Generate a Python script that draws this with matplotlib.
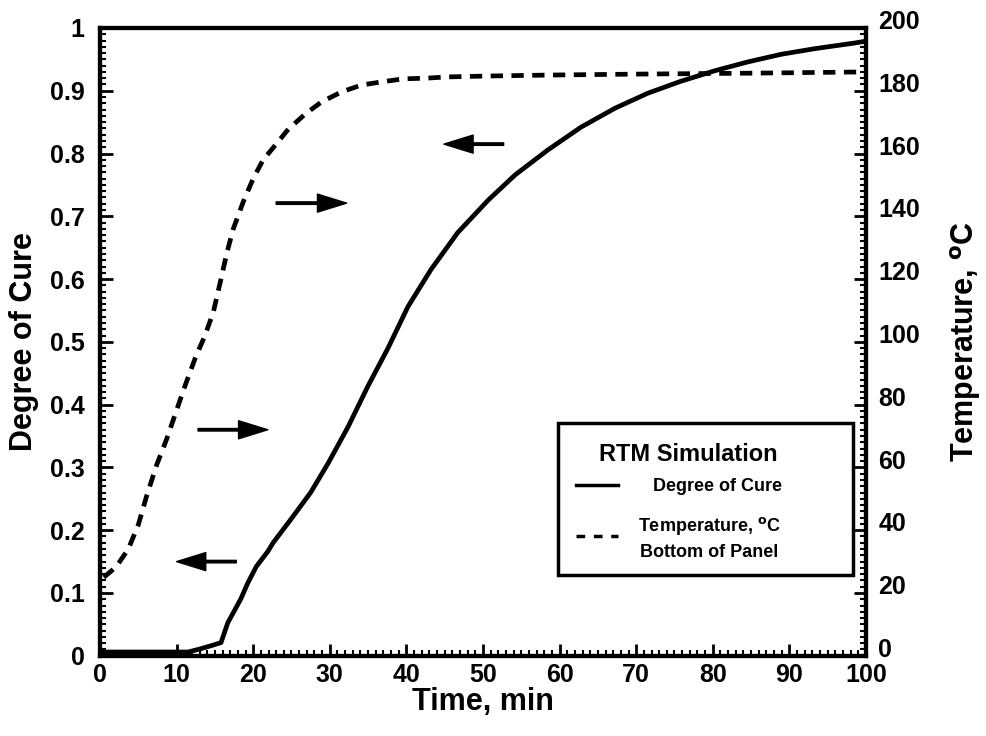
import numpy as np
import matplotlib.pyplot as plt
import matplotlib.transforms as mtransforms
from matplotlib.ticker import MultipleLocator
from matplotlib.patches import Rectangle
from matplotlib.lines import Line2D

plt.rcParams['font.family'] = ['Liberation Sans', 'DejaVu Sans']
plt.rcParams['font.weight'] = 'bold'
plt.rcParams['axes.labelweight'] = 'bold'
plt.rcParams['mathtext.default'] = 'bf'

# Degree of cure (left axis)
tCure = [0, 4, 8, 11.5, 12.8, 14.5, 15.8, 16.7, 17.6, 18.4, 19.3, 20.4, 21.9,
         22.6, 24.9, 27.5, 29.8, 32.4, 35.0, 37.6, 40.2, 43.2, 46.7, 50.7,
         54.2, 58.5, 62.8, 67.2, 71.5, 75.8, 80.3, 84.6, 88.9, 93.3, 98.5, 100]
cure = [0.006, 0.006, 0.006, 0.006, 0.01, 0.016, 0.021, 0.053, 0.073, 0.091,
        0.116, 0.142, 0.166, 0.18, 0.217, 0.26, 0.307, 0.365, 0.43, 0.49,
        0.556, 0.615, 0.674, 0.726, 0.766, 0.806, 0.842, 0.872, 0.896, 0.915,
        0.932, 0.946, 0.958, 0.967, 0.976, 0.979]

# Temperature at bottom of panel (right axis)
tTemp = [0.5, 2.1, 3.7, 5.0, 6.1, 7.4, 8.7, 9.8, 11.1, 12.4, 13.7, 14.8, 15.7,
         16.6, 17.4, 18.7, 20.0, 21.3, 22.9, 24.6, 26.8, 28.9, 31.5, 34.1,
         36.7, 39.6, 42.6, 45.2, 50.8, 58.7, 70, 85, 100]
temp = [25, 28.3, 34, 41.7, 51, 60.8, 69, 76.8, 86, 94.6, 102, 109.5, 119,
        128.7, 136, 144.6, 152, 158, 162.7, 167.8, 172.6, 176.4, 179.6, 181.8,
        182.8, 183.8, 184.0, 184.4, 184.7, 185.0, 185.3, 185.6, 186.0]

# arrows: (tail x, head x, y on cure axis)
arrowTail = [52.7, 23.0, 12.8, 17.8]
arrowHead = [44.9, 32.2, 21.9, 10.0]
arrowY = [0.815, 0.721, 0.36, 0.15]

fig = plt.figure(figsize=(9.87, 7.36), dpi=100)
ax = fig.add_axes([0.1013, 0.109, 0.7761, 0.853])
ax2 = ax.twinx()

ax.plot(tCure, cure, color='black', lw=3.4, solid_joinstyle='round')
ax2.plot(tTemp, temp, color='black', lw=3.4, dashes=(2.6, 1.8))

for xt, xh, yy in zip(arrowTail, arrowHead, arrowY):
    ax.annotate('', xy=(xh, yy), xytext=(xt, yy),
                arrowprops=dict(width=1.8, headwidth=13, headlength=21,
                                facecolor='black', edgecolor='black', shrink=0))

ax.set_xlim(0, 100)
ax.set_ylim(0, 1)
ax2.set_ylim(0, 200)

ax.xaxis.set_major_locator(MultipleLocator(10))
ax.xaxis.set_minor_locator(MultipleLocator(1))
ax.yaxis.set_minor_locator(MultipleLocator(0.01))
ax2.yaxis.set_major_locator(MultipleLocator(20))
ax2.yaxis.set_minor_locator(MultipleLocator(2))
ax.set_yticks(np.arange(0, 1.01, 0.1))
ax.set_yticklabels(['0', '0.1', '0.2', '0.3', '0.4', '0.5', '0.6', '0.7',
                    '0.8', '0.9', '1'])

for a in (ax, ax2):
    for s in a.spines.values():
        s.set_linewidth(3)
    a.tick_params(which='major', direction='in', length=9, width=2,
                  labelsize=18)
    a.tick_params(which='minor', direction='in', length=4, width=1.5)
ax.tick_params(axis='y', pad=11)
ax.tick_params(axis='x', pad=5)
ax.tick_params(top=False, right=False, which='both')
ax2.tick_params(axis='y', pad=9)

# right-hand labels sit a little higher, as in the original
up = mtransforms.ScaledTranslation(0, 6 / 72, fig.dpi_scale_trans)
for lab in ax2.get_yticklabels():
    lab.set_transform(lab.get_transform() + up)

ax.set_xlabel('Time, min', fontsize=22, labelpad=0)
ax.set_ylabel('Degree of Cure', fontsize=22, labelpad=8)
ax2.set_ylabel(r'Temperature, $^{\mathbf{o}}$C', fontsize=22, labelpad=20)

# legend box
ax.add_patch(Rectangle((0.598, 0.129), 0.385, 0.242, transform=ax.transAxes,
                       fill=True, facecolor='white', edgecolor='black',
                       lw=2.5, zorder=5))
ax.text(0.768, 0.320, 'RTM Simulation', transform=ax.transAxes,
        fontsize=17, ha='center', va='center', zorder=6)
ax.add_line(Line2D([0.622, 0.676], [0.272, 0.272], transform=ax.transAxes,
                   color='black', lw=2.5, zorder=6))
ax.text(0.722, 0.270, 'Degree of Cure', transform=ax.transAxes,
        fontsize=13, ha='left', va='center', zorder=6)
ax.add_line(Line2D([0.622, 0.676], [0.191, 0.191], transform=ax.transAxes,
                   color='black', lw=2.5, dashes=(2.5, 2.5), zorder=6))
ax.text(0.703, 0.207, r'Temperature, $^{\mathbf{o}}$C', transform=ax.transAxes,
        fontsize=13, ha='left', va='center', zorder=6)
ax.text(0.705, 0.165, 'Bottom of Panel', transform=ax.transAxes,
        fontsize=13, ha='left', va='center', zorder=6)

plt.savefig('out.png', dpi=100)
